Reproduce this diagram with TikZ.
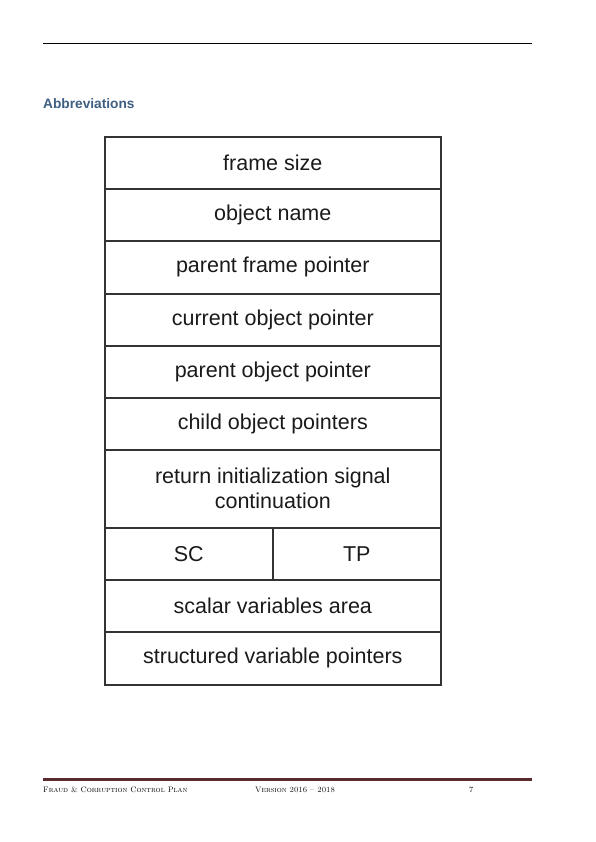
\documentclass[tikz,border=0pt]{standalone}
\usepackage{fontspec}
\setsansfont{Liberation Sans}
\newfontfamily\cellfont{Liberation Sans}
\definecolor{titleblue}{HTML}{3E5F82}
\definecolor{cellline}{HTML}{333333}
\definecolor{celltext}{HTML}{1A1A1A}
\definecolor{footbar}{HTML}{5A2A2E}
\begin{document}
\begin{tikzpicture}[x=1pt,y=-1pt,
  cell/.style={draw=cellline, line width=1.6pt, rectangle, inner sep=0pt,
    anchor=north west, text=celltext, align=center,
    font=\cellfont\fontsize{21.5}{25}\selectfont},
  foot/.style={anchor=base west, inner sep=0pt, font=\fontsize{7.9}{9}\selectfont}]
\useasboundingbox (0,0) rectangle (596,842);
% header rule
\coordinate (hl) at (43,43);
\coordinate (hr) at (532,43);
\draw[line width=0.8pt, black] (hl) -- (hr);
% section heading
\node[anchor=base west, inner sep=0pt, text=titleblue,
  font=\sffamily\bfseries\fontsize{13.7}{15}\selectfont] (title) at (43,109) {Abbreviations};
% frame layout table
\node[cell, minimum width=336pt, minimum height=52pt] (r1) at (104,136) {frame size};
\node[cell, minimum width=336pt, minimum height=52pt] (r2) at (104,188) {object name};
\node[cell, minimum width=336pt, minimum height=53pt] (r3) at (104,240) {parent frame pointer};
\node[cell, minimum width=336pt, minimum height=52pt] (r4) at (104,293) {current object pointer};
\node[cell, minimum width=336pt, minimum height=52pt] (r5) at (104,345) {parent object pointer};
\node[cell, minimum width=336pt, minimum height=52pt] (r6) at (104,397) {child object pointers};
\node[cell, minimum width=336pt, minimum height=78pt] (r7) at (104,449) {return initialization signal\\continuation};
\node[cell, minimum width=168pt, minimum height=52pt] (sc) at (104,527) {SC};
\node[cell, minimum width=168pt, minimum height=52pt] (tp) at (272,527) {TP};
\node[cell, minimum width=336pt, minimum height=52pt] (r9) at (104,579) {scalar variables area};
\node[cell, minimum width=336pt, minimum height=53pt] (r10) at (104,631) {structured variable pointers};
% footer
\coordinate (fl) at (43,779);
\coordinate (fr) at (532,779);
\draw[line width=3pt, footbar] (fl) -- (fr);
\node[foot] (f1) at (43,792) {\textsc{Fraud \& Corruption Control Plan}};
\node[foot] (f2) at (255,792) {\textsc{Version 2016 – 2018}};
\node[foot] (f3) at (469,792) {7};
\end{tikzpicture}
\end{document}
